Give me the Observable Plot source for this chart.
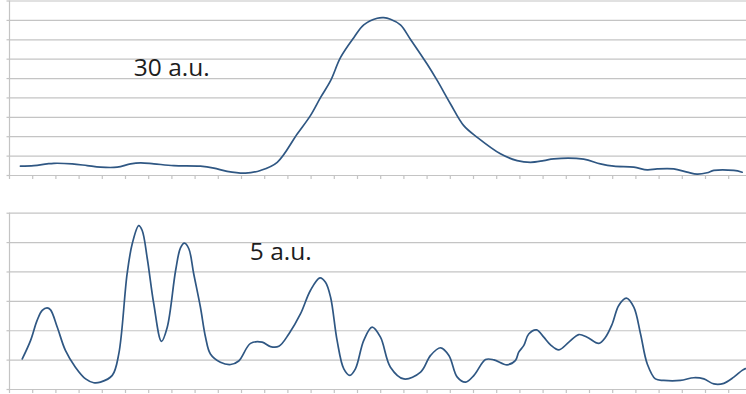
<!DOCTYPE html>
<html>
<head>
<meta charset="utf-8">
<script src="https://cdn.jsdelivr.net/npm/d3@7"></script>
<script src="https://cdn.jsdelivr.net/npm/@observablehq/plot@0.6"></script>
<style>
  html, body { margin: 0; padding: 0; background: #fff; }
  #chart svg { display: block; }
</style>
</head>
<body>
<div id="chart"></div>
<script>
// Top panel (30 a.u.) — x in category units, y in gridline units
const topX = [0.47,1.05,1.62,1.91,2.70,3.35,3.92,4.64,5.22,5.65,6.22,7.08,8.23,8.81,9.38,10.17,10.82,11.54,12.40,12.97,13.41,13.84,14.27,14.84,15.27,15.85,16.13,16.42,16.85,17.28,18.00,18.44,19.01,19.58,20.16,21.16,21.88,22.46,23.03,23.46,24.75,25.47,26.05,26.91,27.49,27.92,28.63,29.21,29.64,30.07,30.36,31.22,31.58];
const topY = [0.48,0.51,0.60,0.63,0.60,0.51,0.43,0.43,0.60,0.65,0.60,0.51,0.48,0.38,0.21,0.12,0.26,0.68,2.14,3.09,4.03,4.89,6.09,7.11,7.77,8.11,8.14,8.06,7.77,7.03,5.75,4.89,3.69,2.57,1.97,1.12,0.77,0.68,0.77,0.86,0.84,0.60,0.48,0.43,0.29,0.34,0.34,0.17,0.07,0.14,0.26,0.26,0.17];

// Bottom panel (5 a.u.)
const botX = [0.55,0.91,1.19,1.41,1.62,1.77,2.06,2.41,2.84,3.28,3.63,3.92,4.43,4.71,5.07,5.29,5.57,5.72,5.94,6.22,6.55,6.80,7.16,7.37,7.54,7.73,7.94,8.23,8.45,8.66,9.09,9.53,9.88,10.39,10.89,11.25,11.61,12.04,12.54,12.97,13.38,13.62,13.84,14.12,14.41,14.67,14.91,15.27,15.63,15.99,16.42,17.00,17.72,18.15,18.58,18.94,19.30,19.66,20.02,20.52,20.88,21.45,21.81,21.95,22.17,22.38,22.72,23.03,23.32,23.68,24.11,24.54,24.90,25.40,25.69,25.98,26.26,26.59,26.91,27.20,27.49,27.84,28.20,28.92,29.50,29.93,30.36,30.79,31.22,31.58,31.72];
const botY = [1.04,1.67,2.35,2.69,2.78,2.71,2.12,1.33,0.76,0.36,0.23,0.25,0.48,1.21,3.94,4.96,5.58,5.41,4.45,2.91,1.64,2.12,4.05,4.82,4.98,4.79,3.94,2.80,1.78,1.21,0.93,0.85,0.97,1.57,1.61,1.46,1.47,1.89,2.57,3.37,3.80,3.65,3.14,1.67,0.70,0.48,0.70,1.67,2.12,1.78,0.76,0.36,0.59,1.16,1.42,1.16,0.42,0.25,0.48,1.02,1.01,0.84,0.99,1.27,1.50,1.89,2.03,1.78,1.52,1.35,1.61,1.87,1.78,1.57,1.78,2.23,2.86,3.11,2.80,1.89,0.87,0.36,0.31,0.31,0.40,0.36,0.19,0.21,0.42,0.65,0.71];

const xTicks = d3.range(0, 32);          // category tick marks
const topGrid = d3.range(0, 10);         // 9 intervals
const botGrid = d3.range(0, 7);          // 6 intervals
const topLabel = ["30 a.u."];
const botLabel = ["5 a.u."];

const topData = topX.map((x, i) => ({x, y: topY[i]}));
const botData = botX.map((x, i) => ({x, y: botY[i]}));

const W = 746;
const xDomain = [0, (W - 9) / 23.2];
const gridColor = "#c4c4c4";
const lineColor = "#2f5783";
const font = "'Open Sans', sans-serif";

function makePanel(opts) {
  return Plot.plot({
    width: W,
    height: opts.height,
    marginLeft: 9,
    marginRight: 0,
    marginTop: opts.marginTop,
    marginBottom: 5,
    x: {domain: xDomain, axis: null},
    y: {domain: [0, opts.grid[opts.grid.length - 1]], axis: null},
    style: {background: "#fff", overflow: "visible"},
    marks: [
      Plot.ruleY(opts.grid, {stroke: gridColor, strokeWidth: 1.2}),
      Plot.axisY({ticks: opts.grid, tickSize: 2.5, tickFormat: () => "", label: null, stroke: gridColor, strokeWidth: 1.2}),
      Plot.ruleX([0], {stroke: gridColor, strokeWidth: 1.2}),
      Plot.axisX({ticks: xTicks, tickSize: 4, tickFormat: () => "", label: null, stroke: gridColor, strokeWidth: 1.2}),
      Plot.line(opts.data, {x: "x", y: "y", stroke: lineColor, strokeWidth: 1.7, curve: "catmull-rom"}),
      Plot.text(opts.label, {x: opts.labelX, y: opts.labelY, text: d => d, textAnchor: "start", lineAnchor: "bottom",
        fontSize: 24.5, fontFamily: font, fill: "#1d1d1d"})
    ]
  });
}

const chart = document.getElementById("chart");
chart.append(makePanel({data: topData, grid: topGrid, height: 180, marginTop: 0.5,
  label: topLabel, labelX: 5.36, labelY: 5.14}));
chart.append(makePanel({data: botData, grid: botGrid, height: 214, marginTop: 32.7,
  label: botLabel, labelX: 10.36, labelY: 4.42}));
</script>
</body>
</html>
